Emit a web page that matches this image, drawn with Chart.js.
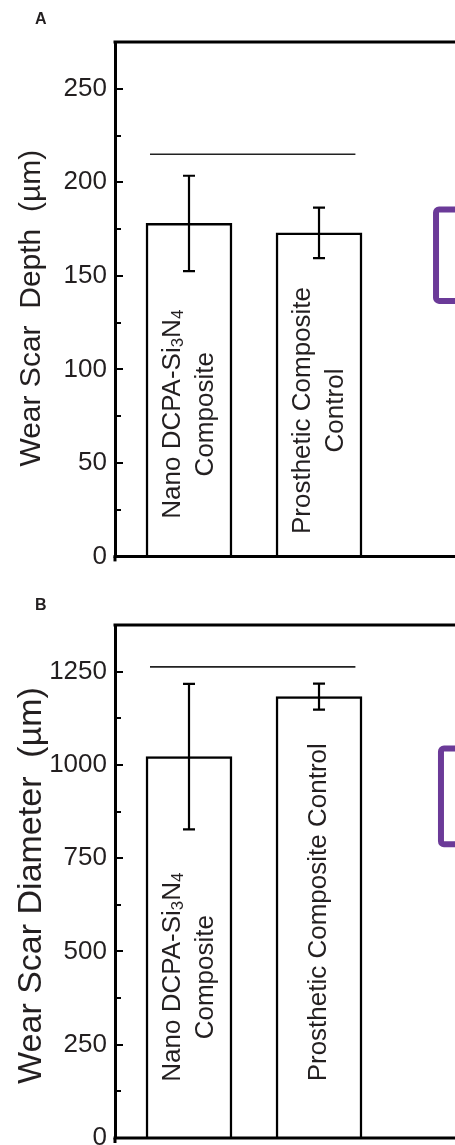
<!DOCTYPE html>
<html><head><meta charset="utf-8">
<script src="https://cdn.jsdelivr.net/npm/chart.js@4.4.0/dist/chart.umd.min.js"></script>
<style>
html,body{margin:0;padding:0;background:#fff;overflow:hidden;width:455px;height:1145px;}
#wrapA{position:absolute;left:0;top:0;width:455px;height:580px;}
#wrapB{position:absolute;left:0;top:580px;width:455px;height:600px;}
canvas{display:block}
</style></head><body>
<div id="wrapA"><canvas id="chartA" width="455" height="580"></canvas></div>
<div id="wrapB"><canvas id="chartB" width="455" height="600"></canvas></div>
<script>
// ---- data ----
const categories = ['Nano DCPA-Si3N4 Composite', 'Prosthetic Composite Control'];
const depthMeans = [178, 173];
const depthErrors = [25.5, 13.5];
const diameterMeans = [1022, 1183];
const diameterErrors = [195, 35];
const depthTickLabels = [0, 50, 100, 150, 200, 250];
const diameterTickLabels = [0, 250, 500, 750, 1000, 1250];
const depthBarLabels = [['Nano DCPA-Si_3N_4', 'Composite'], ['Prosthetic Composite', 'Control']];
const diameterBarLabels = [['Nano DCPA-Si_3N_4', 'Composite'], ['Prosthetic Composite Control']];
const depthSigLevel = 215;
const diameterSigLevel = 1263;

const FONT = '"Liberation Sans", Arial, Helvetica, sans-serif';
const INK = '#231f20';

function parseRich(str) {
  const segs = [];
  const re = /_(\w)/g;
  let last = 0, m;
  while ((m = re.exec(str))) {
    if (m.index > last) segs.push({t: str.slice(last, m.index), sub: false});
    segs.push({t: m[1], sub: true});
    last = re.lastIndex;
  }
  if (last < str.length) segs.push({t: str.slice(last), sub: false});
  return segs;
}
function richWidth(ctx, segs, size) {
  let w = 0;
  for (const s of segs) {
    ctx.font = (s.sub ? size * 0.65 : size) + 'px ' + FONT;
    w += ctx.measureText(s.t).width;
  }
  return w;
}
function drawRich(ctx, segs, x, y, size) {
  let cx = x;
  for (const s of segs) {
    const fs = s.sub ? size * 0.65 : size;
    ctx.font = fs + 'px ' + FONT;
    ctx.fillText(s.t, cx, y + (s.sub ? size * 0.22 : 0));
    cx += ctx.measureText(s.t).width;
  }
}

const decorPlugin = {
  id: 'decor',
  afterDraw(chart, args, o) {
    const ctx = chart.ctx;
    const ca = chart.chartArea;
    const xs = chart.scales.x, ys = chart.scales.y;
    ctx.save();
    // top frame line
    ctx.strokeStyle = '#000';
    ctx.lineWidth = 3;
    ctx.beginPath(); ctx.moveTo(ca.left - 1.5, ca.top); ctx.lineTo(ca.right + 2, ca.top); ctx.stroke();
    // bottom axis line
    const y0 = ys.getPixelForValue(0);
    ctx.beginPath(); ctx.moveTo(ca.left - 1.5, y0); ctx.lineTo(ca.right + 2, y0); ctx.stroke();
    // axis stub below zero
    ctx.beginPath(); ctx.moveTo(ca.left, y0); ctx.lineTo(ca.left, y0 + 5); ctx.stroke();
    // inward ticks
    ctx.lineWidth = 2;
    for (const t of ys.ticks) {
      if (t.value >= ys.max || t.value <= ys.min) continue;
      const py = Math.round(ys.getPixelForValue(t.value));
      const len = (t.value % o.majorStep === 0) ? 8 : 6;
      ctx.beginPath(); ctx.moveTo(ca.left, py); ctx.lineTo(ca.left + len, py); ctx.stroke();
    }
    // significance line
    ctx.strokeStyle = '#222';
    ctx.lineWidth = 1.7;
    const sy = ys.getPixelForValue(o.sigLevel);
    ctx.beginPath(); ctx.moveTo(xs.getPixelForValue(o.sigFrom), sy); ctx.lineTo(xs.getPixelForValue(o.sigTo), sy); ctx.stroke();
    // error bars
    const meta = chart.getDatasetMeta(0);
    ctx.strokeStyle = '#000';
    ctx.lineWidth = 2.2;
    meta.data.forEach((el, i) => {
      const m = o.means[i], e = o.errors[i];
      const yt = ys.getPixelForValue(m + e), yb = ys.getPixelForValue(m - e);
      ctx.beginPath();
      ctx.moveTo(el.x, yt); ctx.lineTo(el.x, yb);
      ctx.moveTo(el.x - 6, yt); ctx.lineTo(el.x + 6, yt);
      ctx.moveTo(el.x - 6, yb); ctx.lineTo(el.x + 6, yb);
      ctx.stroke();
    });
    // y-axis title (rotated)
    ctx.fillStyle = INK;
    ctx.textAlign = 'center';
    ctx.textBaseline = 'middle';
    ctx.font = o.titleSize + 'px ' + FONT;
    ctx.save();
    ctx.translate(o.titleX, (ca.top + ca.bottom) / 2 + o.titleShift);
    ctx.rotate(-Math.PI / 2);
    ctx.fillText(o.title, 0, 0);
    ctx.restore();
    // bar labels (rotated)
    ctx.textBaseline = 'middle';
    ctx.textAlign = 'left';
    meta.data.forEach((el, i) => {
      const lines = o.barLabels[i];
      const cy = ys.getPixelForValue(o.labelCenters[i]);
      ctx.save();
      ctx.translate(el.x, cy);
      ctx.rotate(-Math.PI / 2);
      lines.forEach((ln, j) => {
        const segs = parseRich(ln);
        const w = richWidth(ctx, segs, o.labelSize);
        const ly = (j - (lines.length - 1) / 2) * o.labelLine;
        drawRich(ctx, segs, -w / 2, ly, o.labelSize);
      });
      ctx.restore();
    });
    // cropped purple box at the right edge
    const bx = xs.getPixelForValue(o.box[0]);
    const bt = ys.getPixelForValue(o.box[1]), bb = ys.getPixelForValue(o.box[2]);
    ctx.strokeStyle = '#6b3a98';
    ctx.lineWidth = 6;
    ctx.lineJoin = 'round';
    ctx.beginPath();
    if (ctx.roundRect) ctx.roundRect(bx + 3, bt + 3, 80, bb - bt - 6, 3); else ctx.rect(bx + 3, bt + 3, 80, bb - bt - 6);
    ctx.stroke();
    // panel letter
    ctx.fillStyle = INK;
    ctx.font = 'bold 16px ' + FONT;
    ctx.textAlign = 'left';
    ctx.textBaseline = 'alphabetic';
    ctx.fillText(o.letter, o.letterPos[0], o.letterPos[1]);
    ctx.restore();
  }
};

function makeChart(id, cfg) {
  const data = categories.map((c, i) => ({x: i + 1, y: cfg.means[i]}));
  return new Chart(document.getElementById(id), {
    type: 'bar',
    data: {
      datasets: [{
        data: data,
        backgroundColor: '#ffffff',
        borderColor: '#000000',
        borderWidth: 2.5,
        barThickness: 86,
        borderSkipped: 'start'
      }]
    },
    options: {
      responsive: false,
      maintainAspectRatio: false,
      animation: false,
      devicePixelRatio: 1,
      layout: {padding: {top: cfg.padTop, bottom: cfg.padBottom, left: 0, right: 0}},
      plugins: {
        legend: {display: false},
        tooltip: {enabled: false},
        decor: {
          means: cfg.means, errors: cfg.errors,
          majorStep: cfg.majorStep,
          sigLevel: cfg.sigLevel, sigFrom: 0.7, sigTo: 2.28,
          barLabels: cfg.barLabels, labelCenters: cfg.labelCenters,
          labelSize: 26, labelLine: 33,
          title: cfg.title, titleSize: cfg.titleSize, titleX: cfg.titleX, titleShift: cfg.titleShift,
          box: cfg.box,
          letter: cfg.letter, letterPos: cfg.letterPos
        }
      },
      scales: {
        x: {
          type: 'linear', min: 0.4308, max: 3.046, display: false, offset: false
        },
        y: {
          min: 0, max: cfg.max,
          afterFit(s) { s.width = 115; },
          grid: {display: false, drawTicks: false},
          border: {display: true, color: '#000', width: 3},
          ticks: {
            stepSize: cfg.minorStep,
            padding: 8,
            color: INK,
            font: {family: FONT, size: 26},
            autoSkip: false,
            callback: (v) => cfg.tickLabels.includes(v) ? String(v) : ''
          },
          title: {display: false}
        }
      }
    },
    plugins: [decorPlugin]
  });
}

makeChart('chartA', {
  means: depthMeans, errors: depthErrors, max: 275, minorStep: 25, majorStep: 50,
  tickLabels: depthTickLabels, title: 'Wear Scar  Depth  (\u00b5m)', titleSize: 30, titleX: 32, titleShift: 9,
  sigLevel: depthSigLevel, barLabels: depthBarLabels, labelCenters: [76, 78],
  box: [2.877, 187, 135], letter: 'A', letterPos: [35, 24], padTop: 42, padBottom: 23
});
makeChart('chartB', {
  means: diameterMeans, errors: diameterErrors, max: 1375, minorStep: 125, majorStep: 250,
  tickLabels: diameterTickLabels, title: 'Wear Scar Diameter  (\u00b5m)', titleSize: 34, titleX: 32, titleShift: 4,
  sigLevel: diameterSigLevel, barLabels: diameterBarLabels, labelCenters: [431, 605],
  box: [2.915, 1052, 779], letter: 'B', letterPos: [35, 30], padTop: 45, padBottom: 42
});
</script>
</body></html>
